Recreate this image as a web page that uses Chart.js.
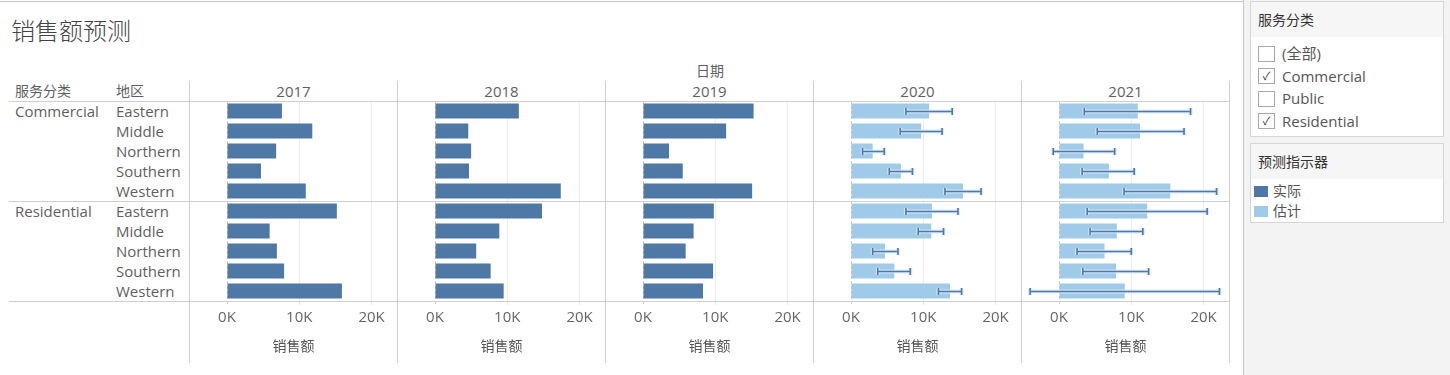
<!DOCTYPE html>
<html>
<head>
<meta charset="utf-8">
<script src="https://cdn.jsdelivr.net/npm/chart.js@4.4.1/dist/chart.umd.min.js"></script>
<style>
  html, body { margin:0; padding:0; }
  body { width:1450px; height:375px; overflow:hidden; background:#fff; position:relative;
         font-family:"Open Sans","Noto Sans CJK SC",sans-serif; color:#5f5f5f; }
  .abs { position:absolute; white-space:nowrap; }
  .line { position:absolute; background:#cfcfcf; }
  .t { position:absolute; white-space:nowrap; height:20px; line-height:20px; font-size:15px; }
  .cjk { font-size:14px; }
  canvas { display:block; }
</style>
</head>
<body>
<div id="root"></div>
<script>
// ---------------- data ----------------
const years = ['2017', '2018', '2019', '2020', '2021'];
const serviceCategories = ['Commercial', 'Residential'];
const regions = ['Eastern', 'Middle', 'Northern', 'Southern', 'Western'];
const yearIndicator = ['实际', '实际', '实际', '估计', '估计'];

// rows: Commercial E,M,N,S,W then Residential E,M,N,S,W
const sales2017 = [7600, 11800, 6800, 4700, 10900, 15200, 5900, 6900, 7900, 15900];
const sales2018 = [11600, 4600, 5000, 4700, 17400, 14800, 8900, 5700, 7700, 9500];
const sales2019 = [15300, 11500, 3600, 5500, 15100, 9800, 7000, 5900, 9700, 8300];
const sales2020 = [10800, 9700, 3000, 6900, 15500, 11200, 11100, 4700, 6000, 13700];
const sales2021 = [10900, 11200, 3400, 6900, 15400, 12200, 8000, 6300, 7900, 9100];

const lower2020 = [7600, 6800, 1600, 5300, 13000, 7600, 9300, 3000, 3700, 12100];
const upper2020 = [14000, 12600, 4600, 8500, 18000, 14800, 12800, 6500, 8200, 15300];
const lower2021 = [3500, 5300, -800, 3200, 9000, 3900, 4300, 2500, 3300, -4000];
const upper2021 = [18200, 17300, 7700, 10400, 21800, 20500, 11600, 10000, 12400, 22200];

const tickValues = [0, 10000, 20000];
const tickLabels = ['0K', '10K', '20K'];

const legendIndicators = ['实际', '估计'];
const filterItems = ['(全部)', 'Commercial', 'Public', 'Residential'];
const filterChecked = [false, true, false, true];

// ---------------- styles ----------------
const indicatorColors = { '实际': '#4e79a7', '估计': '#a0cbe8' };
const salesByYear = [sales2017, sales2018, sales2019, sales2020, sales2021];
const lowerByYear = [null, null, null, lower2020, lower2021];
const upperByYear = [null, null, null, upper2020, upper2021];
const FONT = '"Open Sans","Noto Sans CJK SC",sans-serif';

const root = document.getElementById('root');
function el(cls, css, text) {
  const d = document.createElement('div');
  d.className = cls;
  Object.assign(d.style, css);
  if (text !== undefined) d.textContent = text;
  root.appendChild(d);
  return d;
}

// right side panel background and separator
el('abs', { left:'1244px', top:'0px', width:'206px', height:'375px', background:'#f3f3f3' });
el('line', { left:'1243px', top:'0px', width:'1px', height:'375px', background:'#c4c4c4' });
el('line', { left:'0px', top:'1px', width:'1243px', height:'1px', background:'#c4c4c4' });

// title
el('abs', { left:'11px', top:'15px', height:'32px', lineHeight:'32px', fontSize:'24px', color:'#444', fontWeight:'300' }, '销售额预测');

// header
const panelLeft = i => 190 + 208 * i;
const panelW = 207;
el('t cjk', { left:'690px', top:'61px', width:'40px', textAlign:'center' }, '日期');
years.forEach((y, i) => {
  el('t', { left: panelLeft(i) + 'px', top:'81px', width: panelW + 'px', textAlign:'center' }, y);
});
el('t cjk', { left:'15px', top:'81px' }, '服务分类');
el('t cjk', { left:'116px', top:'81px' }, '地区');

// row labels
serviceCategories.forEach((c, ci) => {
  el('t', { left:'15px', top: (101 + ci * 100) + 'px' }, c);
  regions.forEach((r, ri) => {
    el('t', { left:'116px', top: (101 + ci * 100 + ri * 20) + 'px' }, r);
  });
});

// charts
const rowLabels = [];
serviceCategories.forEach(c => regions.forEach(r => rowLabels.push(c + ' ' + r)));

const overlayPlugin = {
  id: 'overlay',
  beforeDatasetsDraw(chart) {
    const { ctx, chartArea } = chart;
    const xs = chart.scales.x;
    const x0 = Math.round(xs.getPixelForValue(0)) + 0.5;
    ctx.save();
    ctx.strokeStyle = '#c8c8c8';
    ctx.lineWidth = 1;
    ctx.setLineDash([3, 2]);
    ctx.beginPath();
    ctx.moveTo(x0, chartArea.top);
    ctx.lineTo(x0, chartArea.bottom + 4);
    ctx.stroke();
    ctx.restore();
  },
  afterDatasetsDraw(chart) {
    const ds = chart.data.datasets[0];
    if (!ds.errLow) return;
    const { ctx } = chart;
    const xs = chart.scales.x;
    const meta = chart.getDatasetMeta(0);
    ctx.save();
    meta.data.forEach((bar, i) => {
      const xl = xs.getPixelForValue(ds.errLow[i]);
      const xh = xs.getPixelForValue(ds.errHigh[i]);
      const y = Math.round(bar.y) + 0.5;
      const path = () => {
        ctx.beginPath();
        ctx.moveTo(xl, y); ctx.lineTo(xh, y);
        ctx.moveTo(xl, y - 3.5); ctx.lineTo(xl, y + 3.5);
        ctx.moveTo(xh, y - 3.5); ctx.lineTo(xh, y + 3.5);
      };
      ctx.strokeStyle = 'rgba(215,230,245,0.85)';
      ctx.lineWidth = 4;
      path(); ctx.stroke();
      ctx.strokeStyle = '#4e79a7';
      ctx.lineWidth = 1.6;
      path(); ctx.stroke();
    });
    ctx.restore();
  }
};

years.forEach((y, i) => {
  const wrap = el('abs', { left: panelLeft(i) + 'px', top:'101px', width: panelW + 'px', height:'262px' });
  const cv = document.createElement('canvas');
  cv.width = panelW; cv.height = 262;
  cv.style.width = panelW + 'px'; cv.style.height = '262px';
  wrap.appendChild(cv);
  new Chart(cv.getContext('2d'), {
    type: 'bar',
    data: {
      labels: rowLabels,
      datasets: [{
        label: yearIndicator[i],
        data: salesByYear[i],
        backgroundColor: indicatorColors[yearIndicator[i]],
        barPercentage: 0.75,
        categoryPercentage: 1,
        errLow: lowerByYear[i],
        errHigh: upperByYear[i]
      }]
    },
    options: {
      indexAxis: 'y',
      responsive: false,
      animation: false,
      devicePixelRatio: 1,
      layout: { padding: 0 },
      plugins: { legend: { display: false }, tooltip: { enabled: false } },
      scales: {
        y: { display: false },
        x: {
          min: -5120,
          max: 23520,
          afterBuildTicks: s => { s.ticks = tickValues.map(v => ({ value: v })); },
          afterFit: s => { s.height = 62; },
          border: { display: false },
          grid: {
            color: c => (c.tick && c.tick.value === 0) ? 'rgba(0,0,0,0)' : '#ededed',
            tickColor: c => (c.tick && c.tick.value === 0) ? 'rgba(0,0,0,0)' : '#e4e4e4',
            drawTicks: true,
            tickLength: 4
          },
          ticks: {
            autoSkip: false, maxRotation: 0, padding: 4,
            color: '#666',
            font: { family: FONT, size: 15 },
            callback: (v) => tickLabels[tickValues.indexOf(v)]
          },
          title: {
            display: true, text: '销售额', color: '#555',
            font: { family: FONT, size: 14 },
            padding: { top: 0, bottom: 8 }
          }
        }
      }
    },
    plugins: [overlayPlugin]
  });
});

// grid lines of the table (on top)
[101, 201, 301].forEach(yy => el('line', { left:'9px', top: yy + 'px', width:'1221px', height:'1px' }));
for (let i = 0; i <= years.length; i++) {
  el('line', { left: (189 + 208 * i) + 'px', top:'81px', width:'1px', height:'282px' });
}

// legend: filter
el('abs', { left:'1250px', top:'1px', width:'192px', height:'134px', background:'#fff', border:'1px solid #d6d6d6' });
el('abs', { left:'1251px', top:'2px', width:'192px', height:'35px', background:'#f6f6f6' });
el('t cjk', { left:'1258px', top:'10px', color:'#333' }, '服务分类');
filterItems.forEach((f, k) => {
  const cy = 53 + k * 22.5;
  el('abs', { left:'1258px', top: (cy - 7.5) + 'px', width:'15px', height:'14px', border:'1px solid #a8a8a8', background:'#fff',
              fontSize:'11px', lineHeight:'14px', textAlign:'center', color:'#333' }, filterChecked[k] ? '✓' : '');
  el('t', { left:'1282px', top: (cy - 10) + 'px', color:'#555' }, f);
});

// legend: indicator
el('abs', { left:'1250px', top:'143px', width:'192px', height:'78px', background:'#fff', border:'1px solid #d6d6d6' });
el('abs', { left:'1251px', top:'144px', width:'192px', height:'35px', background:'#f6f6f6' });
el('t cjk', { left:'1258px', top:'152px', color:'#333' }, '预测指示器');
legendIndicators.forEach((name, k) => {
  const cy = 191 + k * 20;
  el('abs', { left:'1254px', top: (cy - 5) + 'px', width:'14px', height:'11px', background: indicatorColors[name] });
  el('t cjk', { left:'1273px', top: (cy - 10) + 'px', color:'#555' }, name);
});
</script>
</body>
</html>
